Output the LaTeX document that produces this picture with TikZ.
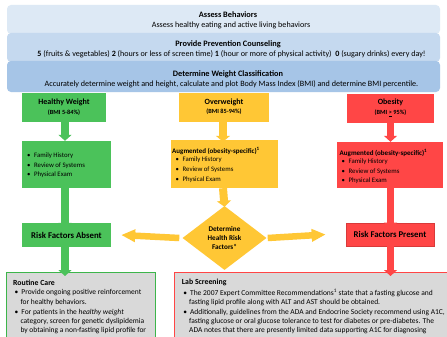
\documentclass[tikz,border=0pt]{standalone}
\usepackage{fontspec}
\setmainfont{Carlito}
\usetikzlibrary{arrows.meta,shapes.geometric}
\definecolor{bandA}{HTML}{DDE9F5}
\definecolor{bandB}{HTML}{C5D9EF}
\definecolor{bandC}{HTML}{A6C5E7}
\definecolor{cgreen}{HTML}{4BC25A}
\definecolor{cgreenD}{HTML}{3DB54B}
\definecolor{cyellow}{HTML}{FFC735}
\definecolor{cred}{HTML}{FF4646}
\definecolor{credD}{HTML}{D93A3A}
\definecolor{cgray}{HTML}{D9D9D9}
\begin{document}
\begin{tikzpicture}[x=1pt,y=-1pt,
  band/.style={rectangle, rounded corners=4pt, minimum width=433pt, inner sep=0pt},
  cbox/.style={rectangle, inner sep=0pt},
  txt/.style={inner sep=0pt, text=black},
  bt/.style={txt, font=\bfseries\fontsize{8.3}{9}\selectfont},
  bs/.style={txt, font=\fontsize{8.1}{8.5}\selectfont},
  ct/.style={txt, font=\bfseries\fontsize{8}{9}\selectfont},
  cs/.style={txt, font=\bfseries\fontsize{6.3}{7}\selectfont},
  li/.style={txt, anchor=west, font=\fontsize{6.8}{7}\selectfont},
  aug/.style={li, font=\bfseries\fontsize{7}{7}\selectfont},
  gt/.style={txt, anchor=west, font=\fontsize{7.5}{8}\selectfont},
  gtt/.style={gt, font=\bfseries\fontsize{7.8}{8}\selectfont},
  rk/.style={cbox, font=\bfseries\fontsize{8.8}{9}\selectfont},
  vgarr/.style={draw=cgreen, line width=8pt, -{Triangle[width=13pt,length=6pt]}},
  vyarr/.style={draw=cyellow, line width=8pt, -{Triangle[width=14pt,length=6pt]}},
  vrarr/.style={draw=cred, line width=7pt, -{Triangle[width=13pt,length=6pt]}},
  hyarr/.style={draw=cyellow, line width=6.5pt, -{Triangle[width=12pt,length=14pt]}}
]
\useasboundingbox (0,0) rectangle (447,337);
\clip (0,0) rectangle (447,337);
\fill[white] (0,0) rectangle (447,337);

% bands
\node[band, fill=bandA, minimum height=29pt] (b1) at (223.5,19.5) {};
\node[band, fill=bandB, minimum height=29pt] (b2) at (223.5,47.5) {};
\node[band, fill=bandC, minimum height=31pt] (b3) at (223.5,76.5) {};
\node[bt] (b1t) at (228,15) {Assess Behaviors};
\node[bs] (b1s) at (231,25) {Assess healthy eating and active living behaviors};
\node[bt] (b2t) at (228,44) {Provide Prevention Counseling};
\node[bs] (b2s) at (231.5,54.3) {\textbf{5} (fruits \& vegetables) \textbf{2} (hours or less of screen time) \textbf{1} (hour or more of physical activity) \ \textbf{0} (sugary drinks) every day!};
\node[bt] (b3t) at (228,74) {Determine Weight Classification};
\node[bs] (b3s) at (231.5,84.7) {Accurately determine weight and height, calculate and plot Body Mass Index (BMI) and determine BMI percentile.};

% classification boxes
\node[cbox, fill=cgreen, minimum width=84pt, minimum height=29pt] (hw) at (64,107.5) {};
\node[ct] (hwt) at (64,102) {Healthy Weight};
\node[cs] (hws) at (64,112.5) {(BMI 5-84\%)};
\node[cbox, fill=cyellow, minimum width=90pt, minimum height=29pt] (ow) at (224,107.5) {};
\node[ct] (owt) at (224,102) {Overweight};
\node[cs] (ows) at (224,112) {(BMI 85-94\%)};
\node[cbox, fill=cred, minimum width=87pt, minimum height=29pt] (ob) at (390.5,108) {};
\node[ct] (obt) at (390.5,102) {Obesity};
\node[cs] (obs) at (390.5,113) {(BMI \underline{>} 95\%)};

% list boxes
\node[cbox, fill=cgreen, minimum width=89pt, minimum height=47pt] (hl) at (66.5,164.5) {};
\node[li] (hl1) at (27,155.7) {\textbullet\hspace{3.5pt}Family History};
\node[li] (hl2) at (27,165.5) {\textbullet\hspace{3.5pt}Review of Systems};
\node[li] (hl3) at (27,175) {\textbullet\hspace{3.5pt}Physical Exam};

\node[cbox, fill=cyellow, minimum width=107pt, minimum height=48pt] (yl) at (224.5,164) {};
\node[aug] (yl0) at (172,150.7) {Augmented (obesity-specific)\textsuperscript{1}};
\node[li] (yl1) at (175.5,160) {\textbullet\hspace{3.5pt}Family History};
\node[li] (yl2) at (175.5,170) {\textbullet\hspace{3.5pt}Review of Systems};
\node[li] (yl3) at (175.5,180) {\textbullet\hspace{3.5pt}Physical Exam};

\node[cbox, fill=cred, minimum width=106pt, minimum height=46pt] (rl) at (390,165) {};
\node[aug] (rl0) at (339.5,152.5) {Augmented (obesity-specific)\textsuperscript{1}};
\node[li] (rl1) at (341.5,162) {\textbullet\hspace{3.5pt}Family History};
\node[li] (rl2) at (341.5,171.5) {\textbullet\hspace{3.5pt}Review of Systems};
\node[li] (rl3) at (341.5,181) {\textbullet\hspace{3.5pt}Physical Exam};

% risk nodes
\node[rk, fill=cgreen, minimum width=89pt, minimum height=24pt] (rfa) at (66.5,235) {Risk Factors Absent};
\node[rk, fill=cred, draw=credD, line width=0.6pt, minimum width=88pt, minimum height=23pt] (rfp) at (390,234.5) {Risk Factors Present};
\node[diamond, fill=cyellow, inner sep=0pt, minimum width=84pt, minimum height=64pt] (dm) at (224.5,238) {};
\node[txt, align=center, font=\bfseries\fontsize{7.2}{9}\selectfont] (dmt) at (224.5,238) {Determine\\Health Risk\\Factors*};

% gray boxes
\node[cbox, fill=cgray, draw=cgreenD, line width=1.4pt, minimum width=149pt, minimum height=120pt, anchor=north west] (rc) at (6,272) {};
\node[cbox, fill=cgray, draw=cred, line width=1.4pt, minimum width=290pt, minimum height=120pt, anchor=north west] (ls) at (174,272) {};

\node[gtt] (rct) at (13,282.7) {Routine Care};
\node[gt] (rc1) at (14.5,293) {\textbullet\hspace{3pt}Provide ongoing positive reinforcement};
\node[gt] (rc2) at (20.3,302.3) {for healthy behaviors.};
\node[gt] (rc3) at (14.5,312.3) {\textbullet\hspace{3pt}For patients in the \textit{healthy weight}};
\node[gt] (rc4) at (20.3,321.7) {category, screen for genetic dyslipidemia};
\node[gt] (rc5) at (20.3,330.7) {by obtaining a non-fasting lipid profile for};

\node[gtt] (lst) at (181.7,282.7) {Lab Screening};
\node[gt] (ls1) at (183.2,293) {\textbullet\hspace{3pt}The 2007 Expert Committee Recommendations\textsuperscript{1} state that a fasting glucose and};
\node[gt] (ls2) at (189,302.3) {fasting lipid profile along with ALT and AST should be obtained.};
\node[gt] (ls3) at (183.2,312.3) {\textbullet\hspace{3pt}Additionally, guidelines from the ADA and Endocrine Society recommend using A1C,};
\node[gt] (ls4) at (189,321.7) {fasting glucose or oral glucose tolerance to test for diabetes or pre-diabetes. The};
\node[gt] (ls5) at (189,330.7) {ADA notes that there are presently limited data supporting A1C for diagnosing};

% arrows
\draw[vgarr] ([xshift=1pt]hw.south) -- ([xshift=-1.5pt]hl.north);
\draw[vgarr] ([xshift=-1.5pt]hl.south) -- ([xshift=-1.5pt,yshift=-6pt]rfa.north);
\draw[vgarr] ([xshift=-1.5pt]rfa.south) -- ([xshift=-1.5pt,yshift=-4pt]rc.north -| rfa.south);
\draw[vyarr] ([xshift=-1pt]ow.south) -- ([xshift=-1.5pt,yshift=-2pt]yl.north);
\draw[vyarr] ([xshift=-1.5pt]yl.south) -- ([yshift=-1pt]dm.north);
\draw[vrarr] (ob.south) -- (rl.north -| ob.south);
\draw[vrarr] (rl.south -| ob.south) -- ([yshift=-6pt]rfp.north -| ob.south);
\draw[vrarr] (rfp.south -| ob.south) -- ([yshift=-4pt]ls.north -| ob.south);
\draw[hyarr] ([xshift=-3pt]dm.west) -- ([xshift=10pt]rfa.east);
\draw[hyarr] ([xshift=1pt]dm.east) -- ([xshift=-20pt]rfp.west);
\end{tikzpicture}
\end{document}
